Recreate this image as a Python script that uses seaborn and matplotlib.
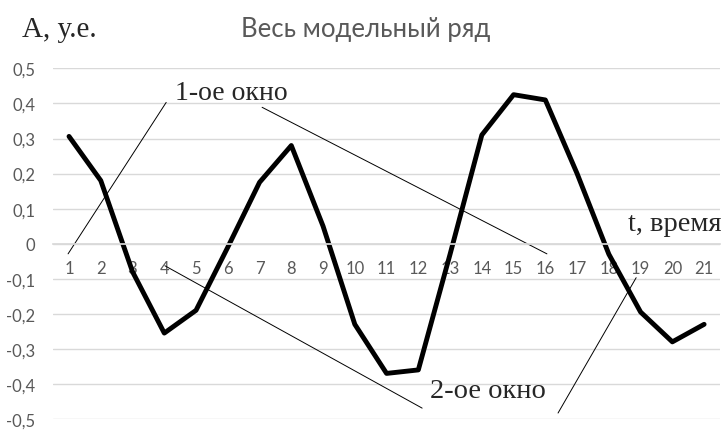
import matplotlib
matplotlib.use("Agg")
import matplotlib.pyplot as plt
import seaborn as sns
import pandas as pd

t = list(range(1, 22))
amplitude = [0.306, 0.18, -0.08, -0.255, -0.19, -0.01, 0.175, 0.28, 0.05, -0.23,
             -0.37, -0.36, -0.03, 0.31, 0.425, 0.41, 0.2, -0.03, -0.195, -0.28, -0.23]
y_ticks = [0.5, 0.4, 0.3, 0.2, 0.1, 0, -0.1, -0.2, -0.3, -0.4, -0.5]
y_tick_labels = ["0,5", "0,4", "0,3", "0,2", "0,1", "0", "-0,1", "-0,2", "-0,3", "-0,4", "-0,5"]

df = pd.DataFrame({"t": t, "A": amplitude})

sns.set_theme(style="white")
plt.rcParams['font.family'] = ['Lato', 'DejaVu Sans']

fig = plt.figure(figsize=(7.28, 4.35), dpi=100)
ax = fig.add_axes([0.073, 0.0345, 0.916, 0.806])

sns.lineplot(data=df, x="t", y="A", ax=ax, color="black", linewidth=3.5, clip_on=False)

ax.set_xlim(0.5, 21.5)
ax.set_ylim(-0.5, 0.5)
ax.set_yticks(y_ticks)
ax.set_yticklabels(y_tick_labels)
ax.set_xticks(t)
ax.set_xticklabels([str(v) for v in t])
ax.grid(axis="y", color="#d9d9d9", linewidth=1)
ax.grid(axis="x", visible=False)
for s in ["top", "right", "left"]:
    ax.spines[s].set_visible(False)
ax.spines["bottom"].set_position(("data", 0))
ax.spines["bottom"].set_color("#d9d9d9")
ax.tick_params(axis="both", length=0, labelcolor="#595959", labelsize=12)
ax.tick_params(axis="y", pad=13)
ax.tick_params(axis="x", pad=12)
ax.set_xlabel("")
ax.set_ylabel("")
ax.set_axisbelow(True)

# annotation leader lines (thin)
ax.plot([4.06, 0.97], [0.403, -0.029], color="black", lw=0.7, clip_on=False)
ax.plot([7.08, 16.05], [0.389, -0.029], color="black", lw=0.7, clip_on=False)
ax.plot([4.02, 12.12], [-0.063, -0.469], color="black", lw=0.7, clip_on=False)
ax.plot([18.86, 16.4], [-0.097, -0.483], color="black", lw=0.7, clip_on=False)

serif = ['Liberation Serif', 'DejaVu Serif']
fig.text(175/728, 1 - 93/435, "1-ое окно", family=serif, fontsize=20, va="center", ha="left")
fig.text(430/728, 1 - 392/435, "2-ое окно", family=serif, fontsize=20.5, va="center", ha="left")
fig.text(721/728, 1 - 225/435, "t, время", family=serif, fontsize=20.5, va="center", ha="right")
fig.text(22/728, 1 - 30/435, "A, у.е.", family=serif, fontsize=21, va="center", ha="left")
fig.text(366/728, 1 - 30/435, "Весь модельный ряд", fontsize=18.5, color="#595959",
         va="center", ha="center")

fig.savefig("out.png", dpi=100)
